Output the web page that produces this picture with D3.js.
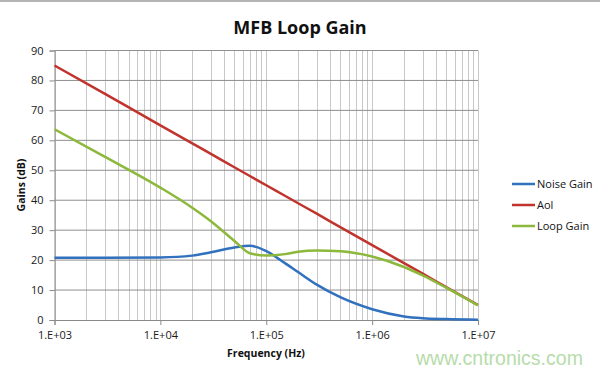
<!DOCTYPE html>
<html>
<head>
<meta charset="utf-8">
<script src="https://cdn.jsdelivr.net/npm/d3@7"></script>
<style>
	body { margin: 0; background: #fff; }
	svg { display: block; font-family: 'Open Sans', sans-serif; }
</style>
</head>
<body>
<svg id="chart" width="600" height="374"></svg>
<script>
// data (frequency in Hz, gains in dB)
const freq = [1e3, 3e3, 1e4, 2e4, 3e4, 5e4, 7e4, 1e5, 1.5e5, 2e5, 3e5, 5e5, 1e6, 2e6, 3e6, 5e6, 1e7];
const noiseGain = [20.8, 20.8, 20.9, 21.5, 22.6, 24.2, 24.8, 23.0, 19.0, 16.0, 11.8, 7.6, 3.6, 1.2, 0.6, 0.3, 0.1];
const aol = [85, 75.5, 65, 59, 55.5, 51, 48.1, 45, 41.5, 39, 35.5, 31, 25, 19, 15.5, 11, 5];
const loopGain = [63.7, 54.5, 44.2, 37.5, 33, 26.4, 22.3, 21.5, 22.0, 22.8, 23.2, 23, 21.2, 17.7, 14.9, 10.8, 4.9];

const seriesNames = ['Noise Gain', 'Aol', 'Loop Gain'];
const seriesColors = ['#3171bd', '#c0342d', '#8cb83b'];
const yTicks = [0, 10, 20, 30, 40, 50, 60, 70, 80, 90];
const xTicks = [1e3, 1e4, 1e5, 1e6, 1e7];

let margin = {
	top: 50.5,
	left: 54.5,
	right: 478,
	bottom: 320
};

const svg = d3.select('#chart');

// frame remnant at the top of the picture
svg.append('line')
	.attr('x1', 0).attr('x2', 600)
	.attr('y1', 1).attr('y2', 1)
	.attr('stroke', '#b4b4b4').attr('stroke-width', 2);

const xScale = d3.scaleLog()
	.domain([1e3, 1e7])
	.range([margin.left, margin.right]);

const yScale = d3.scaleLinear()
	.domain([0, 90])
	.range([margin.bottom, margin.top]);

// minor vertical grid (2..9 per decade) plus decades
const vGrid = [];
for (let d = 3; d < 7; d++) {
	for (let m = 1; m < 10; m++) {
		vGrid.push(m * Math.pow(10, d));
	}
}
vGrid.push(1e7);

svg.append('g')
	.selectAll('line')
	.data(vGrid)
	.enter()
	.append('line')
	.attr('x1', d => Math.round(xScale(d)) + 0.5)
	.attr('x2', d => Math.round(xScale(d)) + 0.5)
	.attr('y1', margin.top)
	.attr('y2', margin.bottom)
	.attr('stroke', '#c8c8c8')
	.attr('stroke-width', 1);

svg.append('g')
	.selectAll('line')
	.data(yTicks.filter(t => t > 0))
	.enter()
	.append('line')
	.attr('x1', margin.left)
	.attr('x2', margin.right)
	.attr('y1', d => yScale(d))
	.attr('y2', d => yScale(d))
	.attr('stroke', '#8f8f8f')
	.attr('stroke-width', 1);

// axes
const axisY = svg.append('g')
	.attr('transform', `translate(${margin.left},0)`)
	.call(d3.axisLeft(yScale).tickValues(yTicks).tickSize(5).tickPadding(6).tickFormat(d3.format('d')));

const axisX = svg.append('g')
	.attr('transform', `translate(0,${margin.bottom})`)
	.call(d3.axisBottom(xScale).tickValues(xTicks).tickSize(5).tickPadding(6)
		.tickFormat(d => '1.E+0' + Math.round(Math.log10(d))));

svg.selectAll('.domain').attr('stroke', '#8a8a8a');
svg.selectAll('.tick line').attr('stroke', '#8a8a8a');
svg.selectAll('.tick text')
	.attr('fill', '#1a1a1a')
	.attr('font-size', '11px')
	.attr('font-family', "'Open Sans', sans-serif");

// series
const line = d3.line()
	.x((d, i) => xScale(freq[i]))
	.y(d => yScale(d))
	.curve(d3.curveMonotoneX);

[noiseGain, aol, loopGain].forEach((s, i) => {
	svg.append('path')
		.datum(s)
		.attr('d', line)
		.attr('fill', 'none')
		.attr('stroke', seriesColors[i])
		.attr('stroke-width', 2.5)
		.attr('stroke-linejoin', 'round');
});

// title and axis titles
svg.append('text')
	.text('MFB Loop Gain')
	.attr('x', 300)
	.attr('y', 34)
	.attr('text-anchor', 'middle')
	.attr('font-size', '18px')
	.attr('font-weight', 'bold')
	.attr('fill', '#111');

svg.append('text')
	.text('Frequency (Hz)')
	.attr('x', 266)
	.attr('y', 357)
	.attr('text-anchor', 'middle')
	.attr('font-size', '10.5px')
	.attr('font-weight', 'bold')
	.attr('fill', '#111');

svg.append('text')
	.text('Gains (dB)')
	.attr('transform', 'translate(25,185) rotate(-90)')
	.attr('text-anchor', 'middle')
	.attr('font-size', '10.5px')
	.attr('font-weight', 'bold')
	.attr('fill', '#111');

// legend
const legend = svg.append('g')
	.selectAll('g')
	.data(seriesNames)
	.enter()
	.append('g')
	.attr('transform', (d, i) => `translate(512,${184 + i * 21})`);

legend.append('line')
	.attr('x1', 0).attr('x2', 23)
	.attr('stroke', (d, i) => seriesColors[i])
	.attr('stroke-width', 2.5);

legend.append('text')
	.text(d => d)
	.attr('x', 25)
	.attr('dy', '0.35em')
	.attr('font-size', '11px')
	.attr('fill', '#111');

// watermark
svg.append('text')
	.text('www.cntronics.com')
	.attr('x', 416)
	.attr('y', 365)
	.attr('font-family', "'Liberation Sans', Arial, sans-serif")
	.attr('font-size', '19.5px')
	.attr('fill', '#b6dcaa');
</script>
</body>
</html>
